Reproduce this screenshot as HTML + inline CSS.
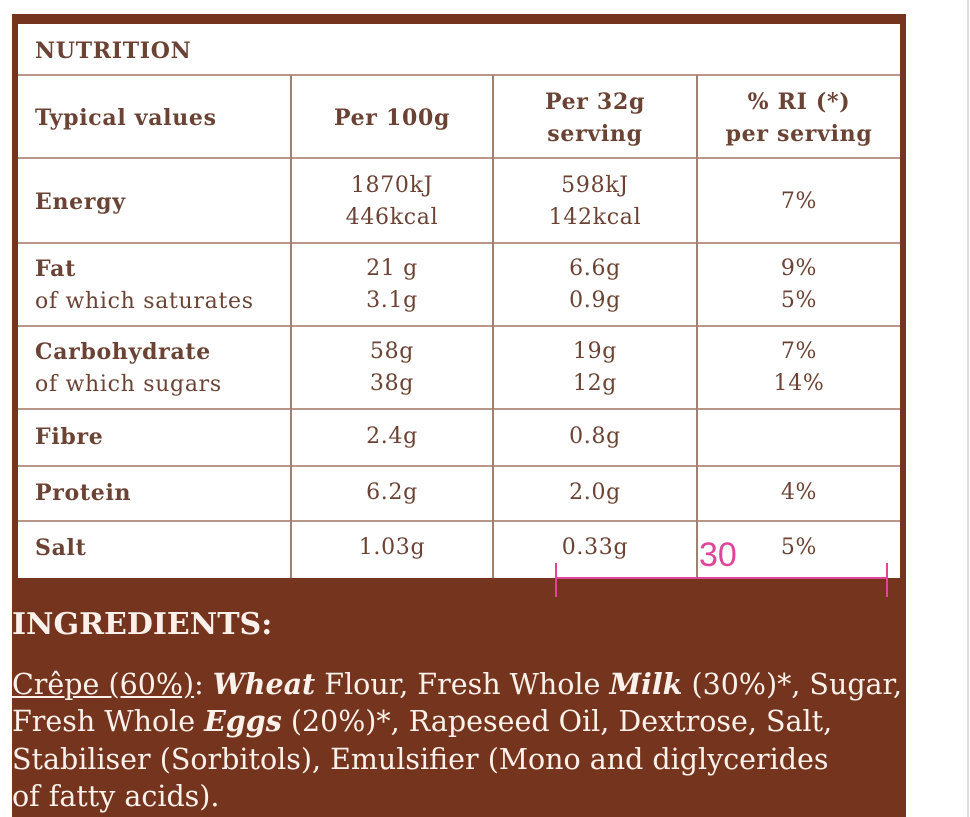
<!DOCTYPE html>
<html><head><meta charset="utf-8"><style>
body{margin:0;width:970px;height:817px;background:#fff;position:relative;overflow:hidden;font-family:"DejaVu Serif","Liberation Serif",serif}
#brown{position:absolute;left:12px;top:14px;width:894px;height:803px;background:#75341d}
#vline{position:absolute;left:967px;top:0;width:2px;height:817px;background:#ddd}
#tbl{position:absolute;left:18px;top:24px;width:882px;height:554px;background:#fff}
.h{position:absolute;height:2px;background:#b8968a}
.v{position:absolute;width:2px;background:#a08070}
.t{position:absolute;color:#6b4334;font-size:22px;letter-spacing:0.7px;line-height:32px;white-space:nowrap}
.b{font-weight:bold}
.c{text-align:center}
.w{position:absolute;left:12px;color:#fbf1ea;font-size:28.5px;white-space:nowrap;line-height:37px}
.pk{position:absolute;background:#e0459a}
</style></head><body>
<div id="brown"></div><div id="vline"></div>
<div id="tbl"></div>
<div class="h" style="left:18px;top:74px;width:882px"></div>
<div class="h" style="left:18px;top:157px;width:882px"></div>
<div class="h" style="left:18px;top:242px;width:882px"></div>
<div class="h" style="left:18px;top:325px;width:882px"></div>
<div class="h" style="left:18px;top:408px;width:882px"></div>
<div class="h" style="left:18px;top:465px;width:882px"></div>
<div class="h" style="left:18px;top:520px;width:882px"></div>
<div class="v" style="left:290px;top:75px;height:503px"></div>
<div class="v" style="left:492px;top:75px;height:503px"></div>
<div class="v" style="left:696px;top:75px;height:503px"></div>

<div class="t b" style="left:35px;top:35px">NUTRITION</div>
<div class="t b" style="left:35px;top:102px">Typical values</div>
<div class="t b c" style="left:292px;width:200px;top:102px">Per 100g</div>
<div class="t b c" style="left:494px;width:202px;top:86px">Per 32g<br>serving</div>
<div class="t b c" style="left:698px;width:202px;top:86px">% RI (*)<br>per serving</div>

<div class="t b" style="left:35px;top:186px">Energy</div>
<div class="t c" style="left:292px;width:200px;top:170px">1870kJ<br>446kcal</div>
<div class="t c" style="left:494px;width:202px;top:170px">598kJ<br>142kcal</div>
<div class="t c" style="left:698px;width:202px;top:186px">7%</div>

<div class="t" style="left:35px;top:253px"><b>Fat</b><br>of which saturates</div>
<div class="t c" style="left:292px;width:200px;top:253px">21 g<br>3.1g</div>
<div class="t c" style="left:494px;width:202px;top:253px">6.6g<br>0.9g</div>
<div class="t c" style="left:698px;width:202px;top:253px">9%<br>5%</div>

<div class="t" style="left:35px;top:336px"><b>Carbohydrate</b><br>of which sugars</div>
<div class="t c" style="left:292px;width:200px;top:336px">58g<br>38g</div>
<div class="t c" style="left:494px;width:202px;top:336px">19g<br>12g</div>
<div class="t c" style="left:698px;width:202px;top:336px">7%<br>14%</div>

<div class="t b" style="left:35px;top:421px">Fibre</div>
<div class="t c" style="left:292px;width:200px;top:421px">2.4g</div>
<div class="t c" style="left:494px;width:202px;top:421px">0.8g</div>

<div class="t b" style="left:35px;top:477px">Protein</div>
<div class="t c" style="left:292px;width:200px;top:477px">6.2g</div>
<div class="t c" style="left:494px;width:202px;top:477px">2.0g</div>
<div class="t c" style="left:698px;width:202px;top:477px">4%</div>

<div class="t b" style="left:35px;top:532px">Salt</div>
<div class="t c" style="left:292px;width:200px;top:532px">1.03g</div>
<div class="t c" style="left:494px;width:202px;top:532px">0.33g</div>
<div class="t c" style="left:698px;width:202px;top:532px">5%</div>

<div style="position:absolute;left:699px;top:536px;color:#e0459a;font-family:'Liberation Sans',sans-serif;font-size:34px;line-height:38px">30</div>
<div class="pk" style="left:555px;top:577px;width:332px;height:2px"></div>
<div class="pk" style="left:555px;top:563px;width:2px;height:34px"></div>
<div class="pk" style="left:886px;top:563px;width:2px;height:34px"></div>

<div class="w" style="top:606px;font-weight:bold;font-size:30px">INGREDIENTS:</div>
<div class="w" style="top:666px"><u>Crêpe (60%)</u>: <b><i>Wheat</i></b> Flour, Fresh Whole <b><i>Milk</i></b> (30%)*, Sugar,</div>
<div class="w" style="top:703px">Fresh Whole <b><i>Eggs</i></b> (20%)*, Rapeseed Oil, Dextrose, Salt,</div>
<div class="w" style="top:741px">Stabiliser (Sorbitols), Emulsifier (Mono and diglycerides</div>
<div class="w" style="top:778px">of fatty acids).</div>
</body></html>
